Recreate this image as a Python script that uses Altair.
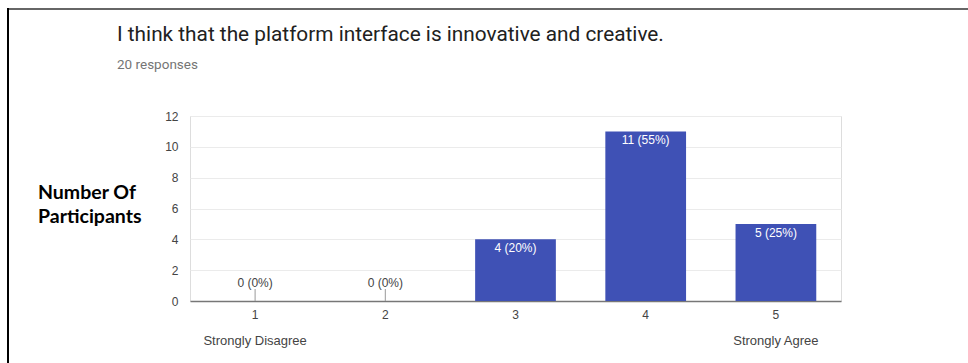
import altair as alt
import pandas as pd

# Data
categories = ["1", "2", "3", "4", "5"]
counts = [0, 0, 4, 11, 5]
percents = ["0%", "0%", "20%", "55%", "25%"]
anchors = ["Strongly Disagree", "", "", "", "Strongly Agree"]
question = "I think that the platform interface is innovative and creative."
responses = "20 responses"
y_title_lines = ["Number Of", "Participants"]
y_ticks = [0, 2, 4, 6, 8, 10, 12]

df = pd.DataFrame({
    "category": categories,
    "count": counts,
    "label": [f"{c} ({p})" for c, p in zip(counts, percents)],
    "anchor": anchors,
})

W, H = 651, 185
FS = 12

x_scale = alt.Scale(paddingInner=0.38, paddingOuter=0.19)
y_scale = alt.Scale(domain=[0, 12], nice=False)
x_axis = alt.Axis(
    title=None, labelAngle=0, ticks=False, labelPadding=8,
    labelFont="Arial", labelFontSize=FS, labelColor="#444444",
    domainColor="#777777", domainWidth=1.5, grid=False,
)
y_axis = alt.Axis(
    title=None, values=y_ticks, domain=False, ticks=False,
    labelOverlap=False, labelPadding=12, labelFont="Arial", labelFontSize=FS,
    labelColor="#444444", gridColor="#ebebeb", grid=True,
)
x_enc = alt.X("category:N", sort=categories, scale=x_scale, axis=x_axis)
y_enc = alt.Y("count:Q", scale=y_scale, axis=y_axis)

base = alt.Chart(df)

bars = base.mark_bar(color="#3f51b5").encode(x=x_enc, y=y_enc)

inner_labels = base.transform_filter("datum.count > 0").mark_text(
    color="white", font="Arial", fontSize=FS, baseline="middle", dy=9
).encode(x=x_enc, y=y_enc, text="label:N")

zero_labels = base.transform_filter("datum.count == 0").mark_text(
    color="#444444", font="Arial", fontSize=FS, baseline="middle", dy=-18
).encode(x=x_enc, y=y_enc, text="label:N")

zero_stems = base.transform_filter("datum.count == 0").mark_rule(
    color="#999999", strokeWidth=1
).encode(x=x_enc, y=y_enc, y2=alt.value(H - 12))

anchor_text = base.mark_text(
    color="#444444", font="Arial", fontSize=13, baseline="middle"
).encode(x=x_enc, y=alt.value(225), text="anchor:N")

one = alt.Data(values=[{"a": 1}])

title_t = alt.Chart(one).mark_text(
    text=question, font="Roboto", fontSize=20.8, color="#212121",
    align="left", baseline="alphabetic"
).encode(x=alt.value(-73), y=alt.value(-75))

resp_t = alt.Chart(one).mark_text(
    text=responses, font="Roboto", fontSize=13.5, color="#757575",
    align="left", baseline="alphabetic"
).encode(x=alt.value(-73), y=alt.value(-47))

ytitle1 = alt.Chart(one).mark_text(
    text=y_title_lines[0], font="Lato", fontSize=19.5, fontWeight="bold", color="black",
    align="left", baseline="alphabetic"
).encode(x=alt.value(-152), y=alt.value(83))

ytitle2 = alt.Chart(one).mark_text(
    text=y_title_lines[1], font="Lato", fontSize=19.5, fontWeight="bold", color="black",
    align="left", baseline="alphabetic"
).encode(x=alt.value(-152), y=alt.value(107))

top_border = alt.Chart(one).mark_rule(color="#666666", strokeWidth=2).encode(
    x=alt.value(-183), x2=alt.value(778), y=alt.value(-107))
left_border = alt.Chart(one).mark_rule(color="black", strokeWidth=2).encode(
    x=alt.value(-182), y=alt.value(-108), y2=alt.value(250))

chart = alt.layer(
    bars, inner_labels, zero_stems, zero_labels, anchor_text,
    title_t, resp_t, ytitle1, ytitle2, top_border, left_border
).properties(
    width=W, height=H,
    autosize=alt.AutoSizeParams(type="none"),
    padding={"left": 190, "top": 116, "right": 127, "bottom": 62},
).configure_view(stroke="#e6e6e6").configure(background="white")

chart.save("out.html", embed_options={"renderer": "svg", "actions": False})
